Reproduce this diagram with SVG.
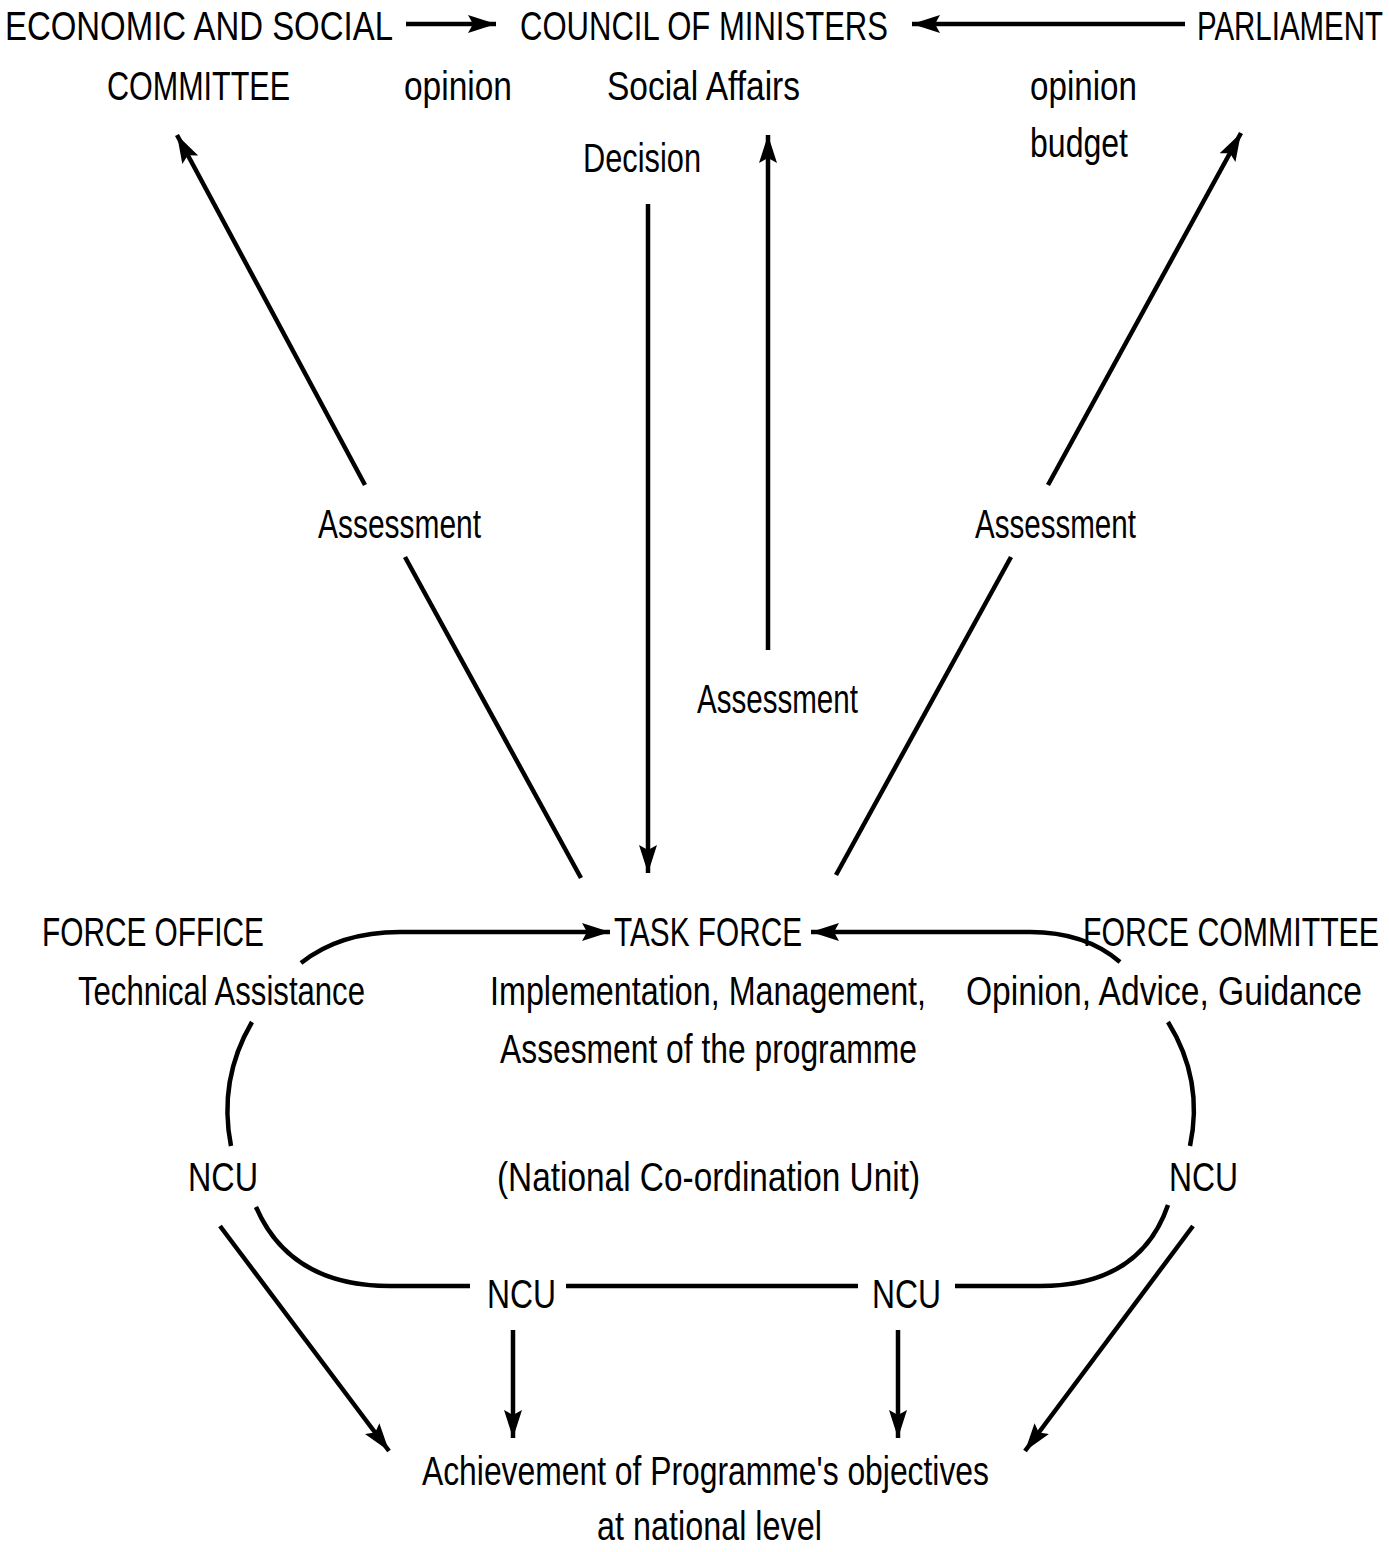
<svg xmlns="http://www.w3.org/2000/svg" width="1389" height="1552" viewBox="0 0 1389 1552">
<style>
text{font-family:"Liberation Sans","DejaVu Sans",sans-serif;font-size:41px;fill:#000}
.k{transform:scale(0.72,1)}
.m{transform:scale(0.82,1)}
.c{fill:none;stroke:#000;stroke-width:4.5}
</style>
<defs>
<marker id="ah" markerUnits="userSpaceOnUse" markerWidth="30" markerHeight="20" refX="28" refY="10" orient="auto">
<path d="M0,1 L28,10 L0,19 L5,10 Z" fill="#000"/>
</marker>
</defs>
<rect width="1389" height="1552" fill="#fff"/>
<g id="esc"><text class="k" x="6.9" y="40" textLength="538.9" lengthAdjust="spacingAndGlyphs">ECONOMIC AND SOCIAL</text><text class="k" x="148.6" y="100" textLength="254.2" lengthAdjust="spacingAndGlyphs">COMMITTEE</text></g>
<g id="council"><text class="k" x="722.2" y="40" textLength="511.1" lengthAdjust="spacingAndGlyphs">COUNCIL OF MINISTERS</text><text class="m" x="740.2" y="100" textLength="235.4" lengthAdjust="spacingAndGlyphs">Social Affairs</text></g>
<g id="parliament"><text class="k" x="1662.5" y="40" textLength="258.3" lengthAdjust="spacingAndGlyphs">PARLIAMENT</text></g>
<g id="labels-top"><text class="m" x="492.7" y="100" textLength="131.7" lengthAdjust="spacingAndGlyphs">opinion</text><text class="m" x="1256.1" y="100" textLength="130.5" lengthAdjust="spacingAndGlyphs">opinion</text><text class="m" x="1256.1" y="157" textLength="119.5" lengthAdjust="spacingAndGlyphs">budget</text><text class="m" x="711" y="172" textLength="143.9" lengthAdjust="spacingAndGlyphs">Decision</text></g>
<g id="assess-labels"><text class="m" x="387.8" y="538" textLength="198.8" lengthAdjust="spacingAndGlyphs">Assessment</text><text class="m" x="850" y="713" textLength="196.3" lengthAdjust="spacingAndGlyphs">Assessment</text><text class="m" x="1189" y="538" textLength="196.3" lengthAdjust="spacingAndGlyphs">Assessment</text></g>
<g id="force-office"><text class="k" x="58.3" y="946" textLength="308.3" lengthAdjust="spacingAndGlyphs">FORCE OFFICE</text><text class="m" x="95.1" y="1005" textLength="350" lengthAdjust="spacingAndGlyphs">Technical Assistance</text></g>
<g id="task-force"><text class="k" x="852.8" y="946" textLength="261.1" lengthAdjust="spacingAndGlyphs">TASK FORCE</text><text class="m" x="597.6" y="1005" textLength="531.7" lengthAdjust="spacingAndGlyphs">Implementation, Management,</text><text class="m" x="609.8" y="1063" textLength="508.5" lengthAdjust="spacingAndGlyphs">Assesment of the programme</text></g>
<g id="force-committee"><text class="k" x="1504.2" y="946" textLength="411.1" lengthAdjust="spacingAndGlyphs">FORCE COMMITTEE</text><text class="m" x="1178" y="1005" textLength="482.9" lengthAdjust="spacingAndGlyphs">Opinion, Advice, Guidance</text></g>
<g id="ncu-left"><text class="k" x="261.1" y="1191" textLength="97.2" lengthAdjust="spacingAndGlyphs">NCU</text></g>
<g id="ncu-note"><text class="m" x="606.1" y="1191" textLength="515.9" lengthAdjust="spacingAndGlyphs">(National Co-ordination Unit)</text></g>
<g id="ncu-right"><text class="k" x="1623.6" y="1191" textLength="95.8" lengthAdjust="spacingAndGlyphs">NCU</text></g>
<g id="ncu-bl"><text class="k" x="676.4" y="1308" textLength="95.8" lengthAdjust="spacingAndGlyphs">NCU</text></g>
<g id="ncu-br"><text class="k" x="1211.1" y="1308" textLength="95.8" lengthAdjust="spacingAndGlyphs">NCU</text></g>
<g id="achievement"><text class="m" x="514.6" y="1485" textLength="691.5" lengthAdjust="spacingAndGlyphs">Achievement of Programme's objectives</text><text class="m" x="728" y="1540" textLength="274.4" lengthAdjust="spacingAndGlyphs">at national level</text></g>
<g id="connectors">
<line class="c" x1="406" y1="24" x2="496" y2="24" marker-end="url(#ah)"/>
<line class="c" x1="1185" y1="24" x2="912" y2="24" marker-end="url(#ah)"/>
<line class="c" x1="365" y1="485" x2="177" y2="135" marker-end="url(#ah)"/>
<line class="c" x1="405" y1="557" x2="581" y2="878"/>
<line class="c" x1="648" y1="204" x2="648" y2="873" marker-end="url(#ah)"/>
<line class="c" x1="768" y1="650" x2="768" y2="135" marker-end="url(#ah)"/>
<line class="c" x1="1048" y1="485" x2="1241" y2="133" marker-end="url(#ah)"/>
<line class="c" x1="1011" y1="557" x2="836" y2="875"/>
<path class="c" d="M301,963 Q340,932 400,932 L610,932" marker-end="url(#ah)"/>
<path class="c" d="M1120,962 Q1085,932 1030,932 L811,932" marker-end="url(#ah)"/>
<path class="c" d="M252,1022 Q218,1080 231,1146"/>
<path class="c" d="M1168,1022 Q1204,1080 1190,1146"/>
<path class="c" d="M256,1207 Q290,1286 390,1286 L470,1286"/>
<line class="c" x1="566" y1="1286" x2="858" y2="1286"/>
<path class="c" d="M955,1286 L1040,1286 Q1140,1286 1168,1205"/>
<line class="c" x1="220" y1="1226" x2="389" y2="1451" marker-end="url(#ah)"/>
<line class="c" x1="1193" y1="1226" x2="1025" y2="1451" marker-end="url(#ah)"/>
<line class="c" x1="513" y1="1330" x2="513" y2="1438" marker-end="url(#ah)"/>
<line class="c" x1="898" y1="1330" x2="898" y2="1438" marker-end="url(#ah)"/>
</g>
</svg>
